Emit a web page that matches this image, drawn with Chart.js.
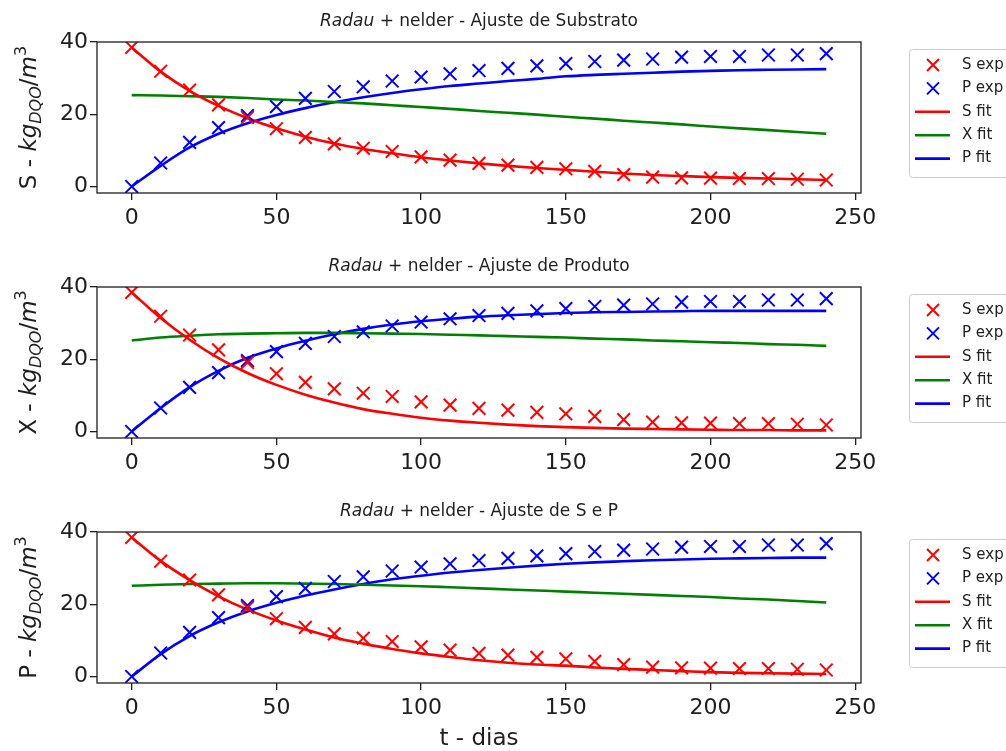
<!DOCTYPE html>
<html>
<head>
<meta charset="utf-8">
<script src="https://cdn.jsdelivr.net/npm/chart.js@4.4.1/dist/chart.umd.min.js"></script>
<style>
  html, body { margin: 0; padding: 0; background: #fff; overflow: hidden; }
  .panel { position: absolute; left: 0; width: 1006px; }
</style>
</head>
<body>
<div class="panel" style="top:0px"><canvas id="c0" width="1006" height="245"></canvas></div>
<div class="panel" style="top:245px"><canvas id="c1" width="1006" height="245"></canvas></div>
<div class="panel" style="top:490px"><canvas id="c2" width="1006" height="261"></canvas></div>
<script>
// tempo (dias) dos pontos experimentais e das curvas ajustadas
const tDias = [0, 10, 20, 30, 40, 50, 60, 70, 80, 90, 100, 110, 120, 130, 140, 150, 160, 170, 180, 190, 200, 210, 220, 230, 240];

// dados experimentais (iguais nos 3 graficos)
const sExp = [38.5, 31.9, 26.7, 22.6, 19.1, 16.0, 13.6, 11.8, 10.6, 9.7, 8.2, 7.3, 6.4, 5.9, 5.3, 4.9, 4.2, 3.3, 2.6, 2.4, 2.3, 2.2, 2.2, 2.0, 1.8];
const pExp = [0, 6.5, 12.2, 16.3, 19.6, 22.1, 24.4, 26.3, 27.6, 29.2, 30.3, 31.2, 32.1, 32.7, 33.4, 34.0, 34.6, 35.0, 35.3, 35.8, 36.0, 36.0, 36.4, 36.4, 36.8];

// ajuste de substrato
const sFitSub = [38.5, 31.8, 26.5, 22.3, 18.9, 16.1, 13.8, 11.9, 10.4, 9.2, 8.1, 7.2, 6.4, 5.7, 5.1, 4.6, 4.1, 3.6, 3.2, 2.9, 2.6, 2.4, 2.2, 2.0, 1.8];
const xFitSub = [25.3, 25.2, 25.0, 24.8, 24.5, 24.1, 23.8, 23.4, 23.0, 22.5, 22.0, 21.5, 20.9, 20.4, 19.9, 19.3, 18.8, 18.2, 17.7, 17.2, 16.6, 16.1, 15.6, 15.1, 14.6];
const pFitSub = [0, 5.7, 10.8, 14.6, 17.5, 19.8, 21.7, 23.3, 24.7, 25.9, 26.9, 27.8, 28.5, 29.2, 29.8, 30.5, 30.9, 31.2, 31.5, 31.8, 32.0, 32.2, 32.3, 32.4, 32.5];

// ajuste de produto
const sFitProd = [38.5, 31.4, 25.4, 20.3, 16.2, 12.9, 10.2, 8.0, 6.2, 4.9, 3.8, 3.0, 2.4, 1.9, 1.5, 1.2, 1.0, 0.8, 0.7, 0.6, 0.5, 0.4, 0.4, 0.3, 0.3];
const xFitProd = [25.2, 26.0, 26.5, 26.9, 27.1, 27.2, 27.3, 27.3, 27.2, 27.1, 27.0, 26.8, 26.6, 26.4, 26.2, 26.0, 25.7, 25.5, 25.2, 25.0, 24.7, 24.5, 24.2, 24.0, 23.7];
const pFitProd = [0, 6.5, 12.3, 16.8, 20.4, 23.0, 25.1, 26.9, 28.4, 29.6, 30.5, 31.2, 31.8, 32.2, 32.5, 32.8, 33.0, 33.1, 33.2, 33.3, 33.4, 33.4, 33.4, 33.4, 33.4];

// ajuste de S e P
const sFitSP = [38.5, 32.0, 26.7, 22.2, 18.5, 15.5, 13.0, 10.8, 9.1, 7.6, 6.4, 5.4, 4.5, 3.8, 3.3, 3.0, 2.5, 2.1, 1.8, 1.5, 1.2, 1.0, 0.9, 0.8, 0.7];
const xFitSP = [25.1, 25.4, 25.6, 25.7, 25.8, 25.8, 25.7, 25.6, 25.4, 25.2, 25.0, 24.7, 24.4, 24.1, 23.8, 23.5, 23.2, 22.9, 22.6, 22.3, 22.0, 21.6, 21.3, 20.9, 20.5];
const pFitSP = [0, 6.2, 11.2, 15.0, 18.0, 20.4, 22.4, 24.1, 25.6, 26.9, 27.9, 28.8, 29.5, 30.1, 30.7, 31.2, 31.6, 31.9, 32.2, 32.4, 32.6, 32.7, 32.8, 32.9, 32.9];

const xTicks = [0, 50, 100, 150, 200, 250];
const yTicks = [0, 20, 40];
const panelTitles = ['Ajuste de Substrato', 'Ajuste de Produto', 'Ajuste de S e P'];
const yVars = ['S', 'X', 'P'];
const legendLabels = ['S exp', 'P exp', 'S fit', 'X fit', 'P fit'];
const xTitle = 't - dias';

const fits = [
  [sFitSub, xFitSub, pFitSub],
  [sFitProd, xFitProd, pFitProd],
  [sFitSP, xFitSP, pFitSP]
];

const RED = '#ff0000', GREEN = '#008000', BLUE = '#0000ff', INK = '#1e1e1e';
const FONT = '"DejaVu Sans", sans-serif';

function pts(ys) {
  return tDias.map((t, i) => ({ x: t, y: ys[i] }));
}

function drawParts(ctx, parts, x, y) {
  let w = 0;
  parts.forEach(p => { ctx.font = p.f; w += ctx.measureText(p.t).width; });
  let cx = x - w / 2;
  parts.forEach(p => {
    ctx.font = p.f;
    ctx.fillText(p.t, cx, y + (p.dy || 0));
    cx += ctx.measureText(p.t).width;
  });
}

function crossMark(ctx, x, y, r, color) {
  ctx.save();
  ctx.strokeStyle = color;
  ctx.lineWidth = 2;
  ctx.beginPath();
  ctx.moveTo(x - r, y - r); ctx.lineTo(x + r, y + r);
  ctx.moveTo(x + r, y - r); ctx.lineTo(x - r, y + r);
  ctx.stroke();
  ctx.restore();
}

function makePanel(idx) {
  const canvas = document.getElementById('c' + idx);
  const H = canvas.height;
  const plotTop = 42, plotH = 151;
  const [sFit, xFit, pFit] = fits[idx];

  const decor = {
    id: 'decor' + idx,
    afterDraw(chart) {
      const ctx = chart.ctx;
      const a = chart.chartArea;
      ctx.save();
      // moldura
      ctx.strokeStyle = INK;
      ctx.lineWidth = 1.3;
      ctx.strokeRect(a.left, a.top, a.right - a.left, a.bottom - a.top);

      // titulo
      ctx.fillStyle = INK;
      ctx.textBaseline = 'alphabetic';
      drawParts(ctx, [
        { t: 'Radau', f: 'italic 17px ' + FONT },
        { t: ' + nelder - ' + panelTitles[idx], f: '17px ' + FONT }
      ], (a.left + a.right) / 2, 26);

      // rotulo do eixo y
      ctx.save();
      ctx.translate(36, (a.top + a.bottom) / 2);
      ctx.rotate(-Math.PI / 2);
      drawParts(ctx, [
        { t: yVars[idx] + ' - ', f: '23px ' + FONT },
        { t: 'kg', f: 'italic 23px ' + FONT },
        { t: 'DQO', f: 'italic 16px ' + FONT, dy: 5 },
        { t: '/', f: '23px ' + FONT },
        { t: 'm', f: 'italic 23px ' + FONT },
        { t: '3', f: '16px ' + FONT, dy: -10 }
      ], 0, 0);
      ctx.restore();

      // legenda
      const bx = 909, by = a.top + 7, bh = 128;
      ctx.fillStyle = 'rgba(255,255,255,0.8)';
      ctx.strokeStyle = '#cccccc';
      ctx.lineWidth = 1;
      ctx.beginPath();
      ctx.roundRect(bx + 0.5, by + 0.5, 140, bh, 3);
      ctx.fill();
      ctx.stroke();
      const colors = [RED, BLUE, RED, GREEN, BLUE];
      ctx.font = '15px ' + FONT;
      ctx.textBaseline = 'middle';
      legendLabels.forEach((lab, i) => {
        const y = by + 16 + i * 23.4;
        if (i < 2) {
          crossMark(ctx, 933, y, 6, colors[i]);
        } else {
          ctx.strokeStyle = colors[i];
          ctx.lineWidth = 2.6;
          ctx.beginPath();
          ctx.moveTo(915, y); ctx.lineTo(950, y);
          ctx.stroke();
        }
        ctx.fillStyle = INK;
        ctx.fillText(lab, 962, y);
      });
      ctx.restore();
    }
  };

  const expStyle = (color) => ({
    showLine: false,
    borderColor: color,
    backgroundColor: color,
    pointStyle: 'crossRot',
    pointRadius: 9,
    pointBorderWidth: 2
  });
  const fitStyle = (color) => ({
    showLine: true,
    borderColor: color,
    backgroundColor: color,
    borderWidth: 2.6,
    pointRadius: 0,
    cubicInterpolationMode: 'monotone'
  });

  return new Chart(canvas, {
    type: 'line',
    data: {
      datasets: [
        Object.assign({ label: legendLabels[0], data: pts(sExp) }, expStyle(RED)),
        Object.assign({ label: legendLabels[1], data: pts(pExp) }, expStyle(BLUE)),
        Object.assign({ label: legendLabels[2], data: pts(sFit) }, fitStyle(RED)),
        Object.assign({ label: legendLabels[3], data: pts(xFit) }, fitStyle(GREEN)),
        Object.assign({ label: legendLabels[4], data: pts(pFit) }, fitStyle(BLUE))
      ]
    },
    options: {
      responsive: false,
      animation: false,
      devicePixelRatio: 1,
      layout: { padding: { top: plotTop, left: 0, right: 1006 - 861, bottom: 0 } },
      plugins: { legend: { display: false }, tooltip: { enabled: false } },
      scales: {
        x: {
          type: 'linear',
          min: -12,
          max: 252,
          afterBuildTicks: s => { s.ticks = xTicks.map(v => ({ value: v })); },
          afterFit: s => { s.height = H - plotTop - plotH; },
          grid: { display: true, drawOnChartArea: false, drawTicks: true, tickLength: 7, color: INK, lineWidth: 1.3 },
          border: { display: false },
          ticks: { color: INK, font: { family: FONT, size: 22 }, padding: 5, maxRotation: 0 },
          title: {
            display: idx === 2,
            text: xTitle,
            color: INK,
            font: { family: FONT, size: 23 },
            padding: { top: 0, bottom: -2 }
          }
        },
        y: {
          min: -1.8,
          max: 40,
          afterBuildTicks: s => { s.ticks = yTicks.map(v => ({ value: v })); },
          afterFit: s => { s.width = 97; },
          grid: { display: true, drawOnChartArea: false, drawTicks: true, tickLength: 7, color: INK, lineWidth: 1.3 },
          border: { display: false },
          ticks: { color: INK, font: { family: FONT, size: 22 }, padding: 2 }
        }
      }
    },
    plugins: [decor]
  });
}

[0, 1, 2].forEach(makePanel);
</script>
</body>
</html>
